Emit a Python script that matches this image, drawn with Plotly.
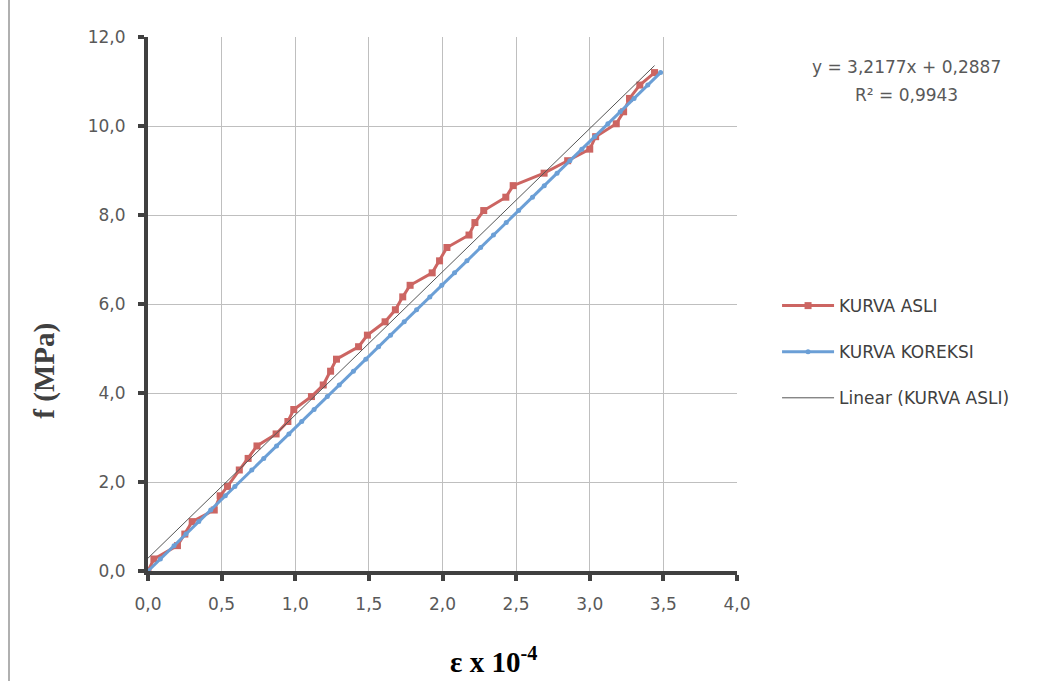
import plotly.graph_objects as go

# Measured stress-strain points (strain x 10^-4, stress in MPa)
asli_x = [0.00, 0.04, 0.20, 0.25, 0.30, 0.45, 0.49, 0.54, 0.62, 0.68, 0.74, 0.87, 0.95, 0.99,
          1.11, 1.19, 1.24, 1.28, 1.43, 1.49, 1.61, 1.68, 1.73, 1.78, 1.93, 1.98, 2.03, 2.18,
          2.22, 2.28, 2.43, 2.48, 2.69, 2.85, 3.00, 3.04, 3.18, 3.23, 3.27, 3.34, 3.44]
asli_y = [0.00, 0.27, 0.57, 0.83, 1.11, 1.37, 1.69, 1.90, 2.27, 2.53, 2.81, 3.08, 3.36, 3.63,
          3.92, 4.18, 4.49, 4.76, 5.04, 5.30, 5.60, 5.87, 6.16, 6.42, 6.70, 6.97, 7.27, 7.55,
          7.83, 8.10, 8.40, 8.66, 8.94, 9.22, 9.48, 9.76, 10.05, 10.32, 10.62, 10.92, 11.20]

# Corrected curve: same stresses, corrected strains
koreksi_x = [0.000, 0.084, 0.177, 0.258, 0.345, 0.426, 0.525, 0.590, 0.705, 0.786, 0.873,
             0.957, 1.044, 1.128, 1.218, 1.299, 1.395, 1.479, 1.566, 1.647, 1.740, 1.824,
             1.914, 1.995, 2.082, 2.166, 2.259, 2.346, 2.433, 2.517, 2.611, 2.691, 2.778,
             2.865, 2.946, 3.033, 3.123, 3.207, 3.301, 3.394, 3.481]
koreksi_y = asli_y

# Linear trend of the measured curve
slope = 3.2177
intercept = 0.2887
r2 = 0.9943
trend_x = [0.0, max(asli_x)]
trend_y = [slope * v + intercept for v in trend_x]

x_ticks = [0, 0.5, 1.0, 1.5, 2.0, 2.5, 3.0, 3.5, 4.0]
y_ticks = [0, 2, 4, 6, 8, 10, 12]


def comma(v, nd=1):
    return f"{v:.{nd}f}".replace(".", ",")


SANS = "DejaVu Sans, Open Sans, sans-serif"
SERIF = "Liberation Serif, Times New Roman, serif"
LABEL_FONT = dict(family=SANS, size=17, color="#595959")

fig = go.Figure()
fig.add_trace(go.Scatter(
    x=asli_x, y=asli_y, mode="lines+markers", name="KURVA ASLI", legendgroup="a",
    line=dict(color="#cc6562", width=3),
    marker=dict(symbol="square", size=7, color="#cc6562"),
))
fig.add_trace(go.Scatter(
    x=koreksi_x, y=koreksi_y, mode="lines+markers", name="KURVA KOREKSI", legendgroup="b",
    line=dict(color="#6b9fd6", width=3),
    marker=dict(symbol="circle", size=5, color="#6b9fd6"),
))
fig.add_trace(go.Scatter(
    x=trend_x, y=trend_y, mode="lines", name="Linear (KURVA ASLI)", legendgroup="c",
    line=dict(color="#555555", width=1),
))

fig.update_layout(
    width=1059, height=681,
    margin=dict(l=148, r=322, t=37, b=110),
    paper_bgcolor="white", plot_bgcolor="white",
    font=LABEL_FONT,
    showlegend=True,
    legend=dict(x=1.068, y=0.41, xanchor="left", yanchor="middle",
                font=dict(family=SANS, size=17, color="#404040"),
                tracegroupgap=21, itemwidth=52, bgcolor="rgba(0,0,0,0)"),
    annotations=[
        dict(xref="paper", yref="paper", x=1.287, y=0.944, xanchor="center", yanchor="middle",
             text=f"y = {comma(slope, 4)}x + {comma(intercept, 4)}", showarrow=False,
             font=dict(family=SANS, size=17, color="#595959")),
        dict(xref="paper", yref="paper", x=1.287, y=0.891, xanchor="center", yanchor="middle",
             text=f"R² = {comma(r2, 4)}", showarrow=False,
             font=dict(family=SANS, size=17, color="#595959")),
        dict(xref="paper", yref="paper", x=-0.175, y=0.375, xanchor="center", yanchor="middle",
             text="<b>f (MPa)</b>", textangle=-90, showarrow=False,
             font=dict(family=SERIF, size=29, color="#404040")),
        dict(xref="paper", yref="paper", x=0.586, y=-0.167, xanchor="center", yanchor="middle",
             text="<b>ε x 10<sup>-4</sup></b>", showarrow=False,
             font=dict(family=SERIF, size=29, color="#000000")),
    ],
    shapes=[
        dict(type="line", xref="paper", yref="paper", x0=-0.236, x1=-0.236, y0=-0.206, y1=1.07,
             line=dict(color="#b0b0b0", width=2)),
    ],
)

fig.update_xaxes(
    range=[0, 4], tickmode="array", tickvals=x_ticks, ticktext=[comma(v) for v in x_ticks],
    showline=True, linecolor="#404040", linewidth=4,
    ticks="outside", ticklen=6, tickwidth=4, tickcolor="#404040",
    showgrid=True, gridcolor="#bfbfbf", gridwidth=1, zeroline=False,
    tickfont=LABEL_FONT, ticklabelstandoff=9,
)
fig.update_yaxes(
    range=[0, 12], tickmode="array", tickvals=y_ticks, ticktext=[comma(v) for v in y_ticks],
    showline=True, linecolor="#404040", linewidth=4,
    ticks="outside", ticklen=6, tickwidth=4, tickcolor="#404040",
    showgrid=True, gridcolor="#bfbfbf", gridwidth=1, zeroline=False,
    tickfont=LABEL_FONT, ticklabelstandoff=9,
)

fig.write_html("out.html")
